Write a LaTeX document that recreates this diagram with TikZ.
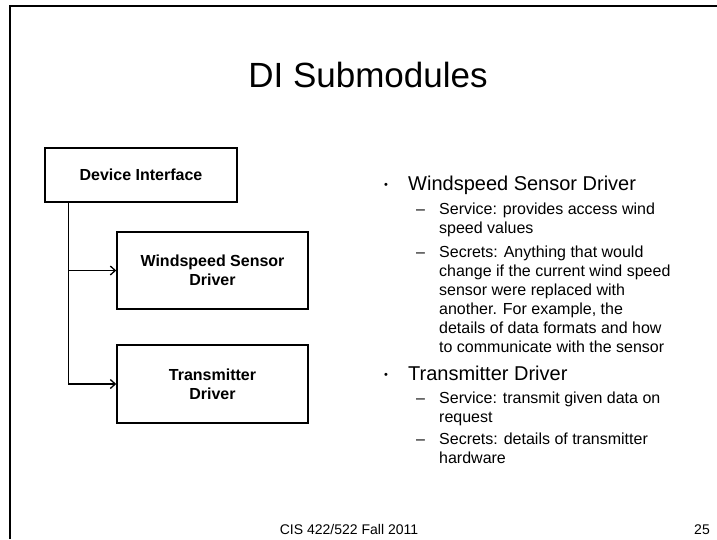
\documentclass[tikz,border=0pt]{standalone}
\usepackage{fontspec}
\setmainfont{Liberation Sans}
\usetikzlibrary{arrows.meta}
\begin{document}
\begin{tikzpicture}[x=1pt,y=-1pt,
  box/.style={draw, line width=1.5pt, minimum width=191pt, align=center, inner sep=0pt,
    font=\fontsize{16}{19}\selectfont\bfseries},
  conn/.style={line width=1.5pt, -{Straight Barb[length=5pt,width=9pt,line width=1.3pt]}},
  head/.style={anchor=base west, inner sep=0pt, font=\fontsize{20}{24}\selectfont},
  sub/.style={anchor=base west, inner sep=0pt, font=\fontsize{16}{19}\selectfont},
  bul/.style={anchor=base west, inner sep=0pt, font=\fontsize{11}{13}\selectfont},
  frame/.style={line width=2pt}]
\useasboundingbox (0,0) rectangle (717,539);
% frame
\coordinate (fbl) at (10,539);
\coordinate (ftl) at (10,6);
\coordinate (ftr) at (717,6);
\draw[frame] (fbl) -- (ftl) -- (ftr);
% title
\node[anchor=base, inner sep=0pt, font=\fontsize{35}{40}\selectfont] (title) at (368,87) {DI Submodules};
% boxes
\node[box, minimum width=192pt, minimum height=54pt] (di) at (141,175) {Device Interface};
\node[box, minimum height=77pt] (ws) at (212.5,270.5) {Windspeed Sensor\\Driver};
\node[box, minimum height=78pt] (tx) at (212.5,384) {Transmitter\\Driver};
\coordinate (trunk) at ([xshift=24pt]di.south west);
\draw[line width=1.5pt] (trunk) -- (trunk |- tx.west);
\draw[conn] (trunk) |- (ws.west);
\draw[conn] (trunk) |- (tx.west);
% bullets
\node[bul] (b1) at (384,188) {•};
\node[head] (h1) at (408,190) {Windspeed Sensor Driver};
\node[bul] (b2) at (384,378) {•};
\node[head] (h2) at (408,380) {Transmitter Driver};
\foreach \yy [count=\i] in {214,257,403,444}
  \node[sub] (d\i) at (416,\yy) {–};
\foreach \yy/\txt [count=\i] in {214/{Service: provides access wind}, 233/{speed values},
  257/{Secrets: Anything that would}, 276/{change if the current wind speed},
  295/{sensor were replaced with}, 314/{another. For example, the},
  333/{details of data formats and how}, 352/{to communicate with the sensor},
  403/{Service: transmit given data on}, 422/{request},
  444/{Secrets: details of transmitter}, 463/{hardware}}
  \node[sub] (s\i) at (439,\yy) {\txt};
% footer
\node[anchor=base, inner sep=0pt, font=\fontsize{14}{16}\selectfont] (foot) at (349,534) {CIS 422/522 Fall 2011};
\node[anchor=base east, inner sep=0pt, font=\fontsize{14}{16}\selectfont] (page) at (710,534) {25};
\end{tikzpicture}
\end{document}
